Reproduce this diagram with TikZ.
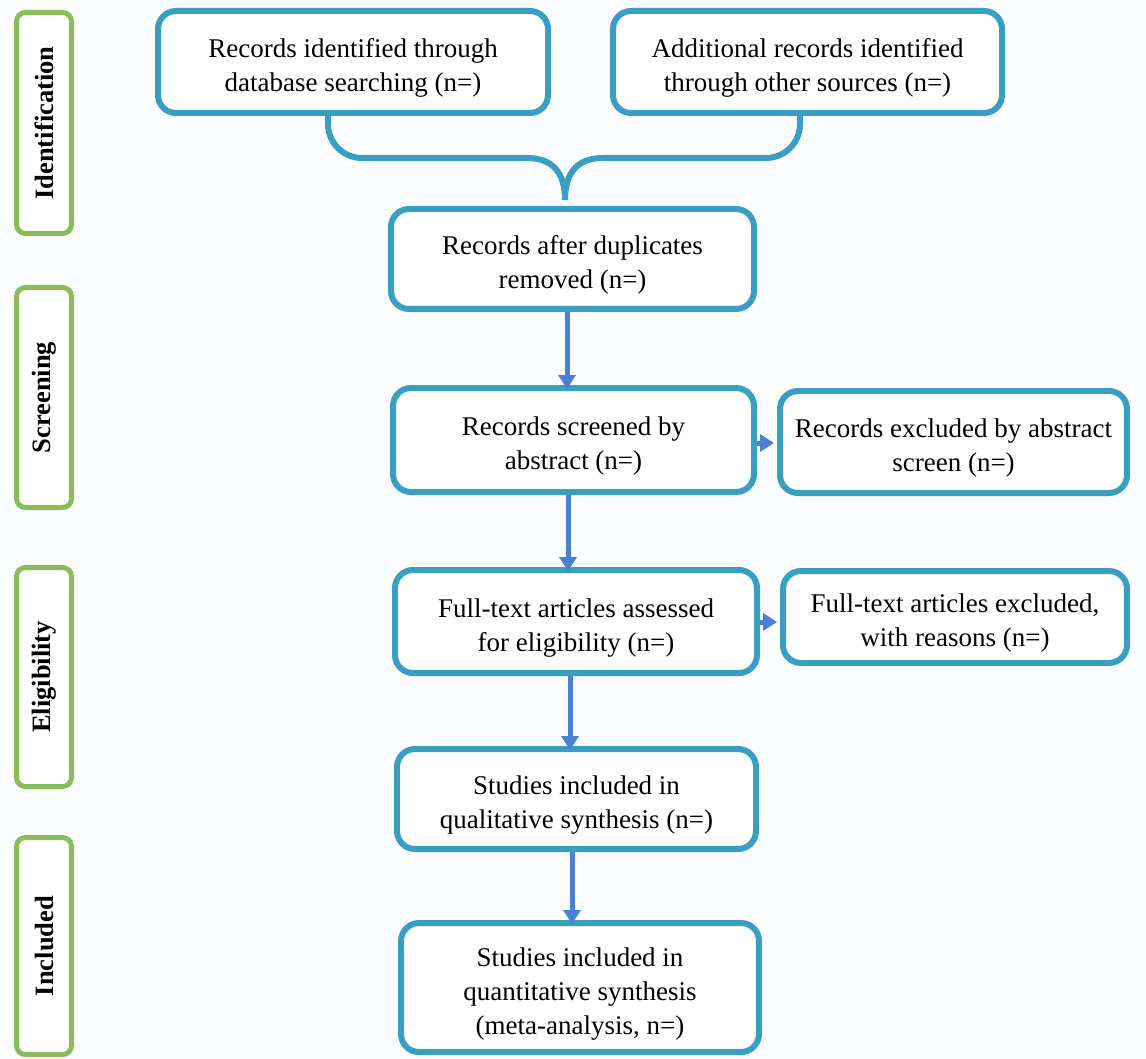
\documentclass[tikz,border=0pt]{standalone}
\usepackage{fontspec}
\setmainfont{Liberation Serif}
\usetikzlibrary{arrows.meta,calc}
\definecolor{boxblue}{HTML}{3A9EC2}
\definecolor{arrblue}{HTML}{4A80D2}
\definecolor{sidegreen}{HTML}{8CBB5A}
\definecolor{bgc}{HTML}{FBFCFE}
\newcommand\pushdown{\rule{0pt}{31pt}}
\begin{document}
\begin{tikzpicture}[x=1pt,y=-1pt,
  flowbox/.style={draw=boxblue,line width=6pt,rounded corners=18pt,fill=white,
    align=center,inner sep=0pt,font=\fontsize{27}{34}\selectfont},
  sidebox/.style={draw=sidegreen,line width=5pt,rounded corners=9pt,fill=white,
    minimum width=55pt,inner sep=0pt},
  sidetext/.style={rotate=90,font=\fontsize{26.5}{30}\selectfont\bfseries},
  arr/.style={draw=arrblue,line width=5pt,-{Triangle[width=17pt,length=14pt]}},
  brace/.style={draw=boxblue,line width=6pt}]
\fill[bgc] (0,0) rectangle (1146,1059);
\useasboundingbox (0,0) rectangle (1146,1059);
% side boxes
\node[sidebox,minimum height=221pt] (s1) at (44,123) {};
\node[sidetext] (t1) at (s1.center) {Identification};
\node[sidebox,minimum height=220pt] (s2) at (44,397.5) {};
\node[sidetext] (t2) at (s2.center) {Screening};
\node[sidebox,minimum height=219pt] (s3) at (44,677) {};
\node[sidetext] (t3) at (s3.center) {Eligibility};
\node[sidebox,minimum height=217pt] (s4) at (44,946) {};
\node[sidetext] (t4) at (s4.center) {Included};
% main boxes
\node[flowbox,minimum width=390pt,minimum height=102pt] (A) at (353,62) {\pushdown Records identified through\\database searching (n=)};
\node[flowbox,minimum width=389pt,minimum height=102pt] (B) at (807.5,62) {\pushdown Additional records identified\\through other sources (n=)};
\node[flowbox,minimum width=363pt,minimum height=100pt] (C) at (572.5,259) {\pushdown Records after duplicates\\removed (n=)};
\node[flowbox,minimum width=361pt,minimum height=104pt] (D) at (573.5,440) {\pushdown Records screened by\\abstract (n=)};
\node[flowbox,minimum width=347pt,minimum height=102pt] (E) at (953.5,442) {\pushdown Records excluded by abstract\\screen (n=)};
\node[flowbox,minimum width=362pt,minimum height=103pt] (F) at (576,621.5) {\pushdown Full-text articles assessed\\for eligibility (n=)};
\node[flowbox,minimum width=344pt,minimum height=92pt] (G) at (955,617) {\pushdown Full-text articles excluded,\\with reasons (n=)};
\node[flowbox,minimum width=359pt,minimum height=100pt] (H) at (576.5,799) {\pushdown Studies included in\\qualitative synthesis (n=)};
\node[flowbox,minimum width=358pt,minimum height=129pt] (I) at (580,987.5) {\pushdown Studies included in\\quantitative synthesis\\(meta-analysis, n=)};
% brace joining A and B into C
\coordinate (tip) at (565,200);
\coordinate (la) at (328,0);
\coordinate (rb) at (800,0);
\draw[brace] (A.south -| la) [rounded corners=34pt] -- (328,158) [sharp corners] -- (527,158)
  .. controls (552,158) and (565,172) .. (tip);
\draw[brace] (B.south -| rb) [rounded corners=34pt] -- (800,158) [sharp corners] -- (603,158)
  .. controls (578,158) and (565,172) .. (tip);
% arrows
\coordinate (x1) at (567,0);
\coordinate (x2) at (568,0);
\coordinate (x3) at (570,0);
\coordinate (x4) at (572,0);
\draw[arr] (C.south -| x1) -- ([yshift=-4pt]D.north -| x1);
\draw[arr] (D.south -| x2) -- ([yshift=-4pt]F.north -| x2);
\draw[arr] (F.south -| x3) -- ([yshift=-4pt]H.north -| x3);
\draw[arr] (H.south -| x4) -- ([yshift=-4pt]I.north -| x4);
\draw[arr] (D.east |- 0,443) -- ([xshift=-3pt]E.west |- 0,443);
\draw[arr] (F.east |- 0,622) -- ([xshift=-3pt]G.west |- 0,622);
\end{tikzpicture}
\end{document}
